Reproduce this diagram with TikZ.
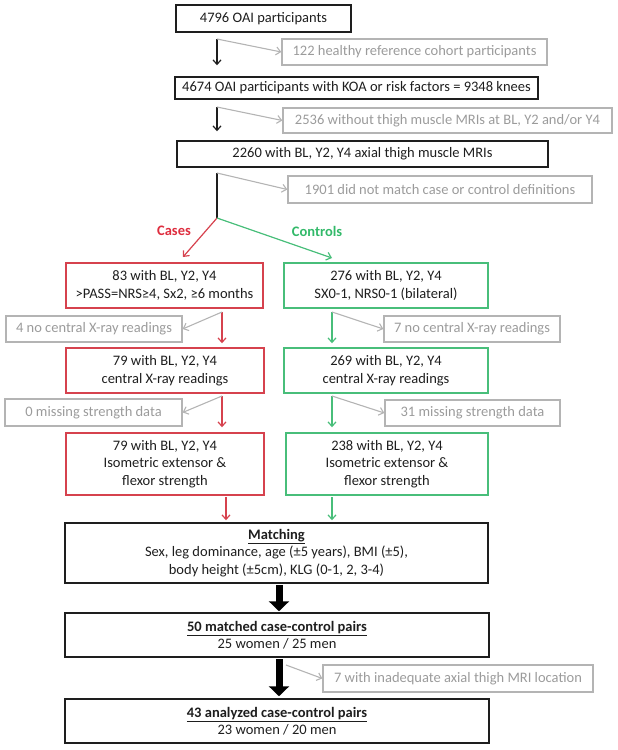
\documentclass[tikz,border=0pt]{standalone}
\usepackage{fontspec}
\setmainfont{Carlito}
\usetikzlibrary{arrows.meta}
\definecolor{cred}{RGB}{214,66,78}
\definecolor{credtxt}{RGB}{222,45,62}
\definecolor{cgreen}{RGB}{72,190,122}
\definecolor{cgreentxt}{RGB}{50,185,105}
\definecolor{cgrayline}{RGB}{180,180,180}
\definecolor{cgraytxt}{RGB}{155,155,155}
\definecolor{cdark}{RGB}{30,30,30}
\tikzset{
  basebox/.style={rectangle, inner sep=1pt, align=center, font=\fontsize{14.5}{17.5}\selectfont},
  blackbox/.style={basebox, draw=cdark, line width=1.5pt, text=cdark},
  redbox/.style={basebox, draw=cred, line width=1.5pt, text=cdark},
  greenbox/.style={basebox, draw=cgreen, line width=1.5pt, text=cdark},
  graybox/.style={basebox, draw=cgrayline, line width=1.3pt, text=cgraytxt},
  blkline/.style={draw=cdark, line width=1.2pt},
  blkarrow/.style={blkline, -{Straight Barb[length=4.5pt,width=8pt]}},
  redarrow/.style={draw=cred, line width=1.2pt, -{Straight Barb[length=4.5pt,width=8pt]}},
  greenarrow/.style={draw=cgreen, line width=1.2pt, -{Straight Barb[length=4.5pt,width=8pt]}},
  grayarrow/.style={draw=cgrayline, line width=1.1pt, -{Straight Barb[length=4.5pt,width=8pt]}},
  thickarrow/.style={draw=black, line width=7pt, -{Triangle[length=10pt,width=20pt]}},
  branchlabel/.style={font=\fontsize{14.5}{16}\selectfont\bfseries}
}
\begin{document}
\begin{tikzpicture}[x=1pt,y=-1pt]
\useasboundingbox (0,0) rectangle (618,750);

% main column
\node[blackbox, minimum width=175pt, minimum height=27pt] (n1) at (263.5,18.5) {4796 OAI participants};
\node[graybox, minimum width=265pt, minimum height=26pt] (g1) at (414.5,52) {122 healthy reference cohort participants};
\node[blackbox, minimum width=363pt, minimum height=22pt] (n2) at (356.5,88) {4674 OAI participants with KOA or risk factors = 9348 knees};
\node[graybox, minimum width=329pt, minimum height=25pt] (g2) at (447.5,120.5) {2536 without thigh muscle MRIs at BL, Y2 and/or Y4};
\node[blackbox, minimum width=371pt, minimum height=26pt] (n3) at (362.5,154) {2260 with BL, Y2, Y4 axial thigh muscle MRIs};
\node[graybox, minimum width=304pt, minimum height=27pt] (g3) at (440,189.5) {1901 did not match case or control definitions};

% branch labels
\node[branchlabel, text=credtxt] (lcases) at (174,231) {Cases};
\node[branchlabel, text=cgreentxt] (lcontrols) at (317,231) {Controls};

% case column
\node[redbox, minimum width=197pt, minimum height=45pt] (r1) at (164.5,285.5) {83 with BL, Y2, Y4\\>PASS=NRS≥4, Sx2, ≥6 months};
\node[graybox, minimum width=176pt, minimum height=26pt] (g4) at (94,329) {4 no central X-ray readings};
\node[redbox, minimum width=198pt, minimum height=45pt] (r2) at (165,370.5) {79 with BL, Y2, Y4\\central X-ray readings};
\node[graybox, minimum width=177pt, minimum height=27pt] (g6) at (93.5,412.5) {0 missing strength data};
\node[redbox, minimum width=198pt, minimum height=62pt] (r3) at (165,464) {79 with BL, Y2, Y4\\Isometric extensor \&\\flexor strength};

% control column
\node[greenbox, minimum width=204pt, minimum height=45pt] (c1) at (386,285.5) {276 with BL, Y2, Y4\\SX0-1, NRS0-1 (bilateral)};
\node[graybox, minimum width=176pt, minimum height=26pt] (g5) at (472,329) {7 no central X-ray readings};
\node[greenbox, minimum width=204pt, minimum height=45pt] (c2) at (386,370.5) {269 with BL, Y2, Y4\\central X-ray readings};
\node[graybox, minimum width=175pt, minimum height=26pt] (g7) at (472.5,413) {31 missing strength data};
\node[greenbox, minimum width=202pt, minimum height=62pt] (c3) at (387,464) {238 with BL, Y2, Y4\\Isometric extensor \&\\flexor strength};

% bottom
\node[blackbox, minimum width=423pt, minimum height=60pt] (m) at (276.5,553) {\underline{\textbf{Matching}}\\Sex, leg dominance, age (±5 years), BMI (±5),\\body height (±5cm), KLG (0-1, 2, 3-4)};
\node[blackbox, minimum width=424pt, minimum height=44pt] (p50) at (277,635) {\underline{\textbf{50 matched case-control pairs}}\\25 women / 25 men};
\node[graybox, minimum width=270pt, minimum height=27pt] (g8) at (458,678.5) {7 with inadequate axial thigh MRI location};
\node[blackbox, minimum width=424pt, minimum height=44pt] (p43) at (277,721) {\underline{\textbf{43 analyzed case-control pairs}}\\23 women / 20 men};

% top connectors
\coordinate (s1) at (217,39);
\coordinate (s2) at (217,107);
\coordinate (s3) at (217,173);
\coordinate (br) at (217,218);
\draw[blkarrow, shorten >=11pt] (s1) -- (s1 |- n2.north);
\draw[grayarrow] (s1) -- (g1.west);
\draw[blkarrow, shorten >=9pt] (s2) -- (s2 |- n3.north);
\draw[grayarrow] (s2) -- (g2.west);
\draw[blkline] (s3) -- (br);
\draw[grayarrow] (s3) -- (g3.west);
\coordinate (rt) at (183,257);
\coordinate (gt) at (332,258);
\draw[redarrow] (br) -- (rt);
\draw[greenarrow] (br) -- (gt);

% case column connectors
\coordinate (rs1) at (222,312);
\coordinate (rs2) at (222,396);
\coordinate (rs3) at (226,497);
\draw[redarrow, shorten >=4pt] (rs1) -- (rs1 |- r2.north);
\draw[grayarrow] (rs1) -- (g4.east);
\draw[redarrow, shorten >=5pt] (rs2) -- (rs2 |- r3.north);
\draw[grayarrow] (rs2) -- (g6.east);
\draw[redarrow, shorten >=2pt] (rs3) -- (rs3 |- m.north);

% control column connectors
\coordinate (cs1) at (332,312);
\coordinate (cs2) at (332,396);
\coordinate (cs3) at (332,497);
\draw[greenarrow, shorten >=4pt] (cs1) -- (cs1 |- c2.north);
\draw[grayarrow] (cs1) -- (g5.west);
\draw[greenarrow, shorten >=5pt] (cs2) -- (cs2 |- c3.north);
\draw[grayarrow] (cs2) -- (g7.west);
\draw[greenarrow, shorten >=2pt] (cs3) -- (cs3 |- m.north);

% thick arrows
\coordinate (t1) at (279,585);
\coordinate (t2) at (279,659);
\coordinate (t3) at (286,665);
\draw[thickarrow, shorten >=1pt] (t1) -- (t1 |- p50.north);
\draw[thickarrow, shorten >=2pt] (t2) -- (t2 |- p43.north);
\draw[grayarrow] (t3) -- (g8.west);
\end{tikzpicture}
\end{document}
